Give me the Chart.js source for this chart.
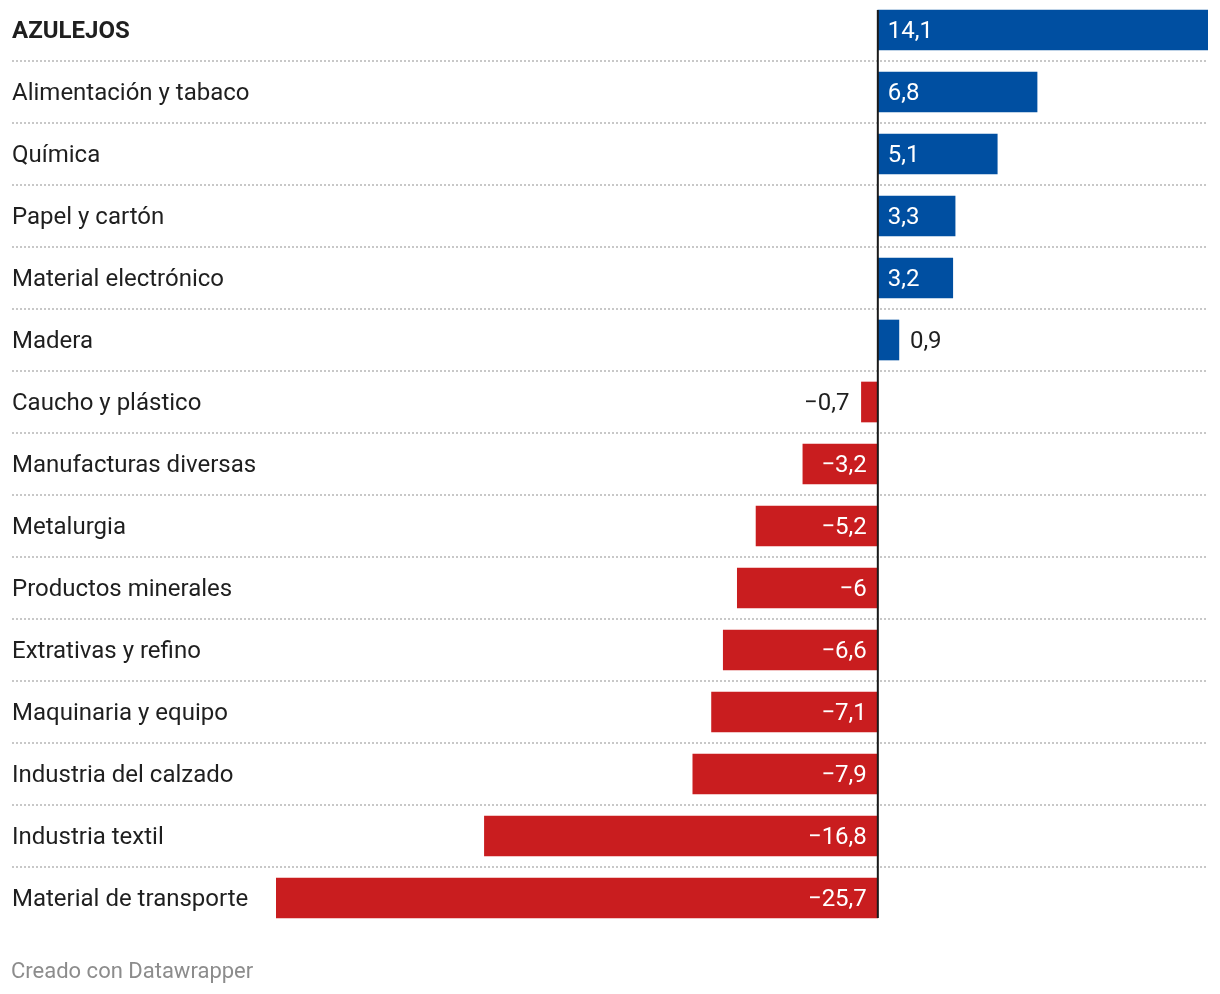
<!DOCTYPE html>
<html>
<head>
<meta charset="utf-8">
<script src="https://cdn.jsdelivr.net/npm/chart.js@4"></script>
<style>
  body { margin: 0; background: #fff; }
  #wrap { width: 1220px; height: 994px; position: relative; margin-top: -1px; }
</style>
</head>
<body>
<div id="wrap"><canvas id="chart" width="1220" height="994"></canvas></div>
<script>
const categories = [
  "AZULEJOS", "Alimentación y tabaco", "Química", "Papel y cartón",
  "Material electrónico", "Madera", "Caucho y plástico", "Manufacturas diversas",
  "Metalurgia", "Productos minerales", "Extrativas y refino", "Maquinaria y equipo",
  "Industria del calzado", "Industria textil", "Material de transporte"
];
const values = [14.1, 6.8, 5.1, 3.3, 3.2, 0.9, -0.7, -3.2, -5.2, -6, -6.6, -7.1, -7.9, -16.8, -25.7];
const boldRows = ["AZULEJOS"];
const footerText = "Creado con Datawrapper";

const BLUE = "#004fa1";
const RED = "#c91d1f";
const TEXT = "#1f1f1f";
const FONT = "Roboto, 'Liberation Sans', sans-serif";

// number as shown in the chart: comma decimals and a true minus sign
function fmt(v) {
  let s = String(Math.abs(v)).replace(".", ",");
  return (v < 0 ? "\u2212" : "") + s;
}

const decorations = {
  id: "decorations",
  beforeDatasetsDraw(chart) {
    const ctx = chart.ctx;
    const y = chart.scales.y;
    const area = chart.chartArea;
    const pitch = (area.bottom - area.top) / categories.length;
    ctx.save();
    // dotted row separators
    ctx.strokeStyle = "#c8c8c8";
    ctx.lineWidth = 2;
    ctx.setLineDash([2, 2]);
    for (let i = 0; i < categories.length - 1; i++) {
      let py = Math.round(y.getPixelForValue(i) + pitch / 2);
      ctx.beginPath();
      ctx.moveTo(12, py);
      ctx.lineTo(area.right, py);
      ctx.stroke();
    }
    ctx.setLineDash([]);
    // category labels
    ctx.textBaseline = "middle";
    ctx.textAlign = "left";
    ctx.fillStyle = TEXT;
    categories.forEach((c, i) => {
      ctx.font = (boldRows.includes(c) ? "bold " : "") + "24px " + FONT;
      ctx.fillText(c, 12, y.getPixelForValue(i) + 2);
    });
    // footer
    ctx.font = "22px " + FONT;
    ctx.fillStyle = "#8c8c8c";
    ctx.fillText(footerText, 11, 973);
    ctx.restore();
  },
  afterDatasetsDraw(chart) {
    const ctx = chart.ctx;
    const meta = chart.getDatasetMeta(0);
    const x0 = chart.scales.x.getPixelForValue(0);
    ctx.save();
    // zero line
    const first = meta.data[0], last = meta.data[meta.data.length - 1];
    ctx.fillStyle = "#1a1a1a";
    ctx.fillRect(x0 - 1, first.y - first.height / 2, 2, (last.y + last.height / 2) - (first.y - first.height / 2));
    // value labels
    ctx.font = "24px " + FONT;
    ctx.textBaseline = "middle";
    meta.data.forEach((bar, i) => {
      const v = values[i];
      const txt = fmt(v);
      const w = ctx.measureText(txt).width;
      const len = Math.abs(bar.x - x0);
      const inside = len > w + 20;
      if (v >= 0) {
        if (inside) { ctx.fillStyle = "#fff"; ctx.textAlign = "left"; ctx.fillText(txt, x0 + 10, bar.y + 2); }
        else { ctx.fillStyle = TEXT; ctx.textAlign = "left"; ctx.fillText(txt, bar.x + 11, bar.y + 2); }
      } else {
        if (inside) { ctx.fillStyle = "#fff"; ctx.textAlign = "right"; ctx.fillText(txt, x0 - 11, bar.y + 2); }
        else { ctx.fillStyle = TEXT; ctx.textAlign = "right"; ctx.fillText(txt, bar.x - 12, bar.y + 2); }
      }
    });
    ctx.restore();
  }
};

new Chart(document.getElementById("chart"), {
  type: "bar",
  data: {
    labels: categories,
    datasets: [{
      data: values,
      backgroundColor: values.map(v => v >= 0 ? BLUE : RED),
      barThickness: 40,
      borderWidth: 0
    }]
  },
  options: {
    indexAxis: "y",
    responsive: false,
    animation: false,
    layout: { padding: { left: 276, right: 12, top: 0, bottom: 64 } },
    scales: {
      x: { display: false, min: -25.7, max: 14.1 },
      y: { display: false, offset: true }
    },
    plugins: {
      legend: { display: false },
      tooltip: { enabled: false }
    }
  },
  plugins: [decorations]
});
</script>
</body>
</html>
